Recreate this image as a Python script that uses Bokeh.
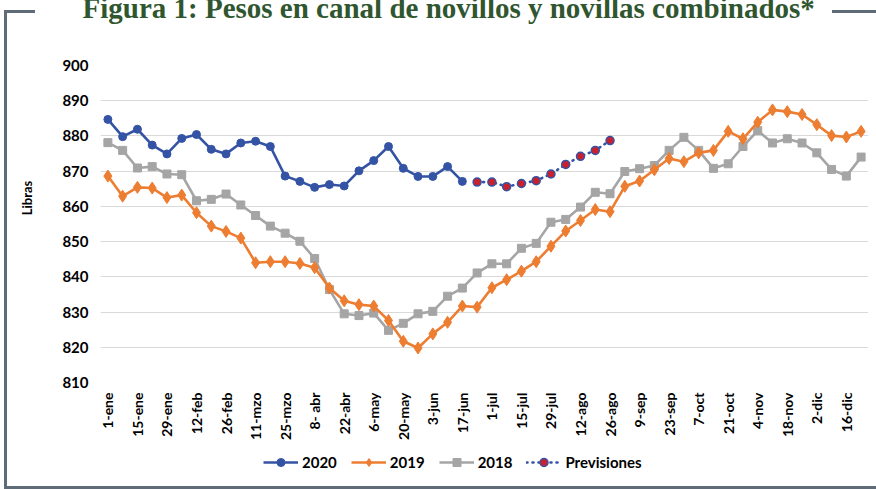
from math import pi
from bokeh.plotting import figure
from bokeh.layouts import column
from bokeh.models import Range1d, FixedTicker, Legend, LegendItem, Title
from bokeh.embed import file_html
from bokeh.resources import INLINE

weeks = ["1-ene", "8-ene", "15-ene", "22-ene", "29-ene", "5-feb", "12-feb", "19-feb",
         "26-feb", "4-mzo", "11-mzo", "18-mzo", "25-mzo", "1-abr", "8- abr", "15-abr",
         "22-abr", "29-abr", "6-may", "13-may", "20-may", "27-may", "3-jun", "10-jun",
         "17-jun", "24-jun", "1-jul", "8-jul", "15-jul", "22-jul", "29-jul", "5-ago",
         "12-ago", "19-ago", "26-ago", "2-sep", "9-sep", "16-sep", "23-sep", "30-sep",
         "7-oct", "14-oct", "21-oct", "28-oct", "4-nov", "11-nov", "18-nov", "25-nov",
         "2-dic", "9-dic", "16-dic", "23-dic"]
y_ticks = [810, 820, 830, 840, 850, 860, 870, 880, 890, 900]

s2020 = [884.7, 879.8, 881.9, 877.4, 874.9, 879.3, 880.4, 876.2, 874.9, 878.0,
         878.5, 877.0, 868.6, 867.1, 865.4, 866.2, 865.8, 870.1, 873.0, 877.0,
         870.8, 868.5, 868.5, 871.3, 867.1]
previsiones = [866.9, 866.9, 865.6, 866.5, 867.3, 869.2, 871.9, 874.2, 875.9, 878.7]
s2019 = [868.6, 862.9, 865.4, 865.2, 862.5, 863.2, 858.2, 854.4, 852.9, 851.0,
         844.0, 844.3, 844.3, 843.8, 842.6, 836.8, 833.2, 832.1, 831.7, 827.6,
         821.7, 819.8, 823.8, 827.1, 831.7, 831.4, 836.9, 839.2, 841.6, 844.3,
         848.7, 853.0, 856.0, 859.1, 858.5, 865.7, 867.2, 870.4, 873.6, 872.7,
         875.2, 875.9, 881.3, 879.2, 883.9, 887.4, 886.9, 886.1, 883.2, 880.1,
         879.7, 881.3]
s2018 = [878.1, 875.9, 870.9, 871.3, 869.2, 869.0, 861.6, 862.0, 863.5, 860.4,
         857.4, 854.4, 852.4, 850.1, 845.2, 836.4, 829.5, 829.0, 829.7, 824.8,
         826.8, 829.5, 830.2, 834.5, 836.8, 841.1, 843.7, 843.7, 848.1, 849.5,
         855.5, 856.3, 859.8, 864.0, 863.6, 869.9, 870.7, 871.6, 875.9, 879.6,
         875.9, 870.8, 872.1, 877.0, 881.5, 878.0, 879.2, 878.0, 875.2, 870.5,
         868.6, 874.0]

C2020 = "#3553a5"
C2019 = "#ed7d31"
C2018 = "#a5a5a5"
CRED = "#c8202c"
FR = "#5f6b77"
FONT = "Lato"
D = 60        # whole layout shifted up so the title's top is cut like the reference
LEG_H = 44    # height of the legend strip

xi = list(range(len(weeks)))
x2020 = xi[:len(s2020)]
xprev = xi[len(s2020):len(s2020) + len(previsiones)]

# ---- main chart ----
H = 489 + D - LEG_H
p = figure(width=876, height=H, output_backend="svg", toolbar_location=None,
           x_range=Range1d(-0.5, len(weeks) - 0.5), y_range=Range1d(810, 900),
           min_border_left=100, min_border_right=8, min_border_top=65 + D,
           min_border_bottom=H - (382 + D))
p.outline_line_color = None
p.background_fill_color = "white"
p.border_fill_color = None

p.title = Title(text="Figura 1: Pesos en canal de novillos y novillas combinados*",
                align="left", offset=-18, standoff=84,
                text_font="Liberation Serif", text_font_style="bold",
                text_font_size="29px", text_color="#30562f")

p.xgrid.grid_line_color = None
p.ygrid.grid_line_color = "#d9d9d9"
p.ygrid.grid_line_width = 1.2

p.xaxis.ticker = FixedTicker(ticks=xi[::2])
p.xaxis.major_label_overrides = {i: weeks[i] for i in xi[::2]}
p.xaxis.major_label_orientation = pi / 2
p.yaxis.ticker = FixedTicker(ticks=y_ticks)
for ax in (p.xaxis, p.yaxis):
    ax.axis_line_color = None
    ax.major_tick_line_color = None
    ax.minor_tick_line_color = None
    ax.major_tick_out = 0
    ax.major_tick_in = 0
    ax.major_label_text_font = FONT
    ax.major_label_text_font_style = "bold"
    ax.major_label_text_color = "#000000"
p.xaxis.major_label_text_font_size = "14px"
p.xaxis.major_label_standoff = 10
p.yaxis.major_label_text_font_size = "15px"
p.yaxis.major_label_standoff = 12
# leading en spaces lift the centred label to where the reference has it
p.yaxis.axis_label = "\u2002" * 8 + "Libras"
p.yaxis.axis_label_text_font = FONT
p.yaxis.axis_label_text_font_style = "bold"
p.yaxis.axis_label_text_font_size = "13px"
p.yaxis.axis_label_text_color = "#000000"
p.yaxis.axis_label_standoff = 24

p.line(xi, s2018, line_color=C2018, line_width=2.6)
p.scatter(xi, s2018, marker="square", size=8, fill_color=C2018, line_color=C2018)
p.line(xi, s2019, line_color=C2019, line_width=2.6)
p.scatter(xi, s2019, marker="diamond", size=12, fill_color=C2019, line_color=C2019)
p.line(x2020, s2020, line_color=C2020, line_width=2.6)
p.scatter(x2020, s2020, marker="circle", size=8, fill_color=C2020, line_color=C2020)
p.line(xprev, previsiones, line_color=C2020, line_width=2.6, line_dash="1 5", line_cap="round")
p.scatter(xprev, previsiones, marker="circle", size=8, fill_color=CRED, line_color=C2020, line_width=1.5)

# ---- legend strip: same series, drawn out of this strip's view, only for the legend samples ----
q = figure(width=876, height=LEG_H, output_backend="svg", toolbar_location=None,
           x_axis_type=None, y_axis_type=None, x_range=Range1d(0, 1), y_range=Range1d(0, 1),
           min_border=0, min_border_left=0, min_border_right=0, min_border_top=0, min_border_bottom=0)
q.outline_line_color = None
q.background_fill_color = None
q.border_fill_color = None
k20 = [q.line(x2020, s2020, line_color=C2020, line_width=2.6),
       q.scatter(x2020, s2020, marker="circle", fill_color=C2020, line_color=C2020)]
k19 = [q.line(xi, s2019, line_color=C2019, line_width=2.6),
       q.scatter(xi, s2019, marker="diamond", fill_color=C2019, line_color=C2019)]
k18 = [q.line(xi, s2018, line_color=C2018, line_width=2.6),
       q.scatter(xi, s2018, marker="square", fill_color=C2018, line_color=C2018)]
kpr = [q.line(xprev, previsiones, line_color=C2020, line_width=2.6, line_dash="1 5", line_cap="round"),
       q.scatter(xprev, previsiones, marker="circle", fill_color=CRED, line_color=C2020, line_width=1.5)]

legend = Legend(items=[
    LegendItem(label="2020", renderers=k20),
    LegendItem(label="2019", renderers=k19),
    LegendItem(label="2018", renderers=k18),
    LegendItem(label="Previsiones", renderers=kpr),
], orientation="horizontal", location=(163, 17))
legend.border_line_color = None
legend.background_fill_alpha = 0
legend.padding = 0
legend.margin = 0
legend.spacing = 14
legend.label_standoff = 4
legend.glyph_width = 35
legend.glyph_height = 20
legend.label_text_font = FONT
legend.label_text_font_style = "bold"
legend.label_text_font_size = "15px"
legend.label_text_color = "#000000"
q.add_layout(legend, "center")

g = f"linear-gradient({FR},{FR})"
frame_css = {
    "margin-top": f"-{D}px",
    "background-image": ", ".join([g] * 4),
    "background-size": "3px 478px, 872px 3px, 31px 3px, 44px 3px",
    "background-position": f"4px {10 + D}px, 4px {486 + D}px, 4px {10 + D}px, 832px {10 + D}px",
    "background-repeat": "no-repeat",
}
layout = column(p, q, spacing=0, styles=frame_css)

open("out.html", "w").write(file_html(layout, INLINE))
